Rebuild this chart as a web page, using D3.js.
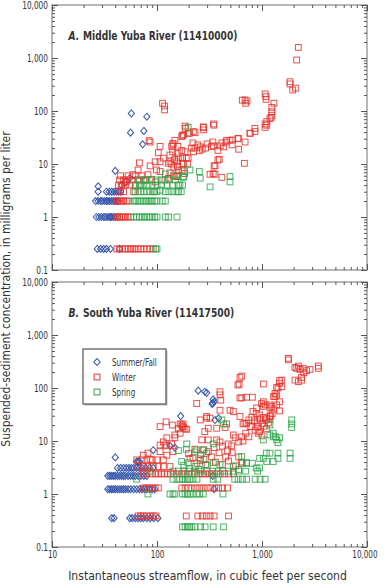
<!DOCTYPE html>
<html>
<head>
<meta charset="utf-8">
<script src="https://cdn.jsdelivr.net/npm/d3@7"></script>
<style>
  html, body { margin: 0; padding: 0; background: #fff; }
  svg { display: block; }
  text { font-family: "Liberation Sans Narrow", "DejaVu Sans Condensed", "Arial Narrow", sans-serif; fill: #333; }
</style>
</head>
<body>
<div id="chart"></div>
<script>
// Panel A - Middle Yuba River (11410000): [streamflow cfs, concentration mg/L]
// rows of repeated concentrations: [conc, [flows...]]
const aSummerRows = [
  [0.25, [27, 29, 31, 33, 36, 44]],
  [1, [26.5, 28, 29.5, 31, 32, 33.5, 35, 36, 37, 38.5, 40, 42]],
  [2, [26, 27.5, 29, 30, 31.5, 33, 34, 35.5, 37, 38.5, 40, 41.5, 43]],
  [3, [27.5, 33, 35, 37, 39, 41, 43, 45]]
];
const aSummerPts = [
  [27.5, 3.8], [40, 7.4], [57, 90], [56, 39], [80, 78], [75, 42], [73, 23.5],
  [50, 4.5], [55, 5.4], [46, 4]
];
const aWinterRows = [
  [0.25, [41.5, 44, 47, 50, 53, 56, 59, 62, 66, 70, 75, 80, 86, 92]],
  [1, [42, 44, 46, 48, 50, 53, 56]],
  [2, [42, 44, 46, 48, 51, 54]],
  [3, [43, 45, 48, 60, 95]],
  [4, [43, 46, 50, 55, 62, 70]],
  [5, [44, 48, 52, 58, 66, 75]],
  [6, [45, 53, 62, 72]]
];
const aWinterPts = [
  [84, 27.6], [107, 21.5], [103, 16.3], [142, 24.5], [141, 17], [178, 35], [133, 11],
  [154, 11], [159, 7.7], [115, 12.9], [107, 11], [96, 11], [86, 9.2], [99, 7.7],
  [68, 10.5], [66, 7.7], [82, 6.3], [77, 5], [59, 6.3], [51, 4.6], [96, 4.6],
  [119, 5], [107, 7.2], [89, 5.1], [128, 5.4], [154, 5.8],
  [113, 140], [118, 124], [118, 105],
  [138, 21.5], [213, 20], [392, 12.3], [350, 9.2], [320, 6.4], [357, 6.4], [415, 5.6],
  [198, 12.9], [178, 10.3], [133, 14.8], [128, 10.3],
  [185, 52], [186, 47], [175, 35], [203, 38], [222, 41], [276, 49], [278, 44], [349, 54],
  [345, 57], [222, 17], [230, 20], [253, 17.8], [290, 20], [330, 21.4], [340, 26],
  [400, 22], [415, 25], [460, 28], [525, 28.4], [595, 30.5], [690, 26], [680, 10.3],
  [380, 11.9], [357, 9.3], [343, 6.6],
  [689, 162], [650, 160], [700, 140], [720, 155], [857, 47], [857, 41], [769, 38],
  [1092, 186], [1070, 210], [1092, 166], [1300, 140], [1240, 117], [1240, 97], [1220, 76],
  [1240, 83], [1190, 72], [1070, 57], [1070, 49], [1110, 63], [1110, 54],
  [1849, 357], [1850, 324], [1960, 249], [2080, 270], [2137, 916], [2218, 1585],
  [86, 26], [142, 23], [172, 33], [198, 38], [230, 39], [258, 21], [345, 22],
  [455, 26], [496, 28], [590, 30], [770, 38], [148, 28], [158, 21.5], [156, 15.7],
  [160, 13], [147, 12], [138, 10], [145, 8.5], [157, 9], [133, 6.8], [143, 6],
  [158, 5.8], [172, 18], [175, 13], [177, 10], [185, 17], [190, 13], [195, 10],
  [173, 7.7], [183, 6.6], [220, 25], [245, 23], [270, 19], [300, 24], [380, 18],
  [430, 21], [520, 23], [600, 19], [276, 50]
];
const aSpringRows = [
  [0.25, [97, 100]],
  [1, [60, 64, 68, 72, 76, 80, 85, 90, 95, 100, 120, 129, 155]],
  [2, [60, 63, 66, 70, 74, 78, 82, 86, 90, 95, 100, 112, 120]],
  [3, [62, 66, 70, 75, 80, 86, 92, 100, 120, 130, 142, 155, 160, 170]],
  [4, [63, 68, 75, 82, 90, 100, 110, 125, 140, 160, 175]],
  [5, [68, 78, 88, 100, 110, 130, 150]]
];
const aSpringPts = [
  [198, 49], [178, 5.8], [253, 7.2], [258, 5.4], [496, 5.8], [496, 4.6], [320, 3.7],
  [182, 7.4], [206, 7.7], [178, 5.6], [80, 5], [107, 3.2], [165, 4], [148, 6], [120, 6.5]
];

// Panel B - South Yuba River (11417500)
const bSummerRows = [
  [0.35, [37, 39, 55, 58, 62, 66, 70, 74, 80, 86, 93, 102]],
  [1.23, [34, 35.5, 37, 38.5, 40, 42, 44, 46, 48, 50, 53, 56, 60, 64, 68, 72, 76, 80, 85, 90, 95, 350]],
  [2.2, [34, 35.5, 37, 38.5, 40, 42, 44, 46, 48, 50, 53, 56, 59, 62, 66, 70, 75, 80, 340]],
  [3.1, [42, 45, 48, 51, 54, 57, 60, 64, 68, 72, 78, 85, 92]],
  [4.1, [64, 68]]
];
const bSummerPts = [
  [40, 4.9], [92, 6.7], [133, 8.1], [148, 7.5], [168, 29.5], [247, 89], [297, 81],
  [285, 85], [343, 61], [335, 50], [350, 55], [357, 24.9], [386, 27], [340, 52], [66, 4.1]
];
const bWinterRows = [
  [0.385, [66, 70, 74, 80, 86, 92, 98, 190, 245, 270, 295, 320, 350, 480]],
  [1.3, [74, 79, 84, 90, 96, 103, 172, 185, 200, 215, 235, 255, 275, 300, 325, 355, 385, 420, 470]],
  [2.4, [74, 80, 88, 96, 103, 110, 118, 126, 135, 145, 155, 172, 185, 200, 215, 230, 250, 270, 290, 315, 340, 370, 400, 440, 480, 533]],
  [3.3, [66, 74, 82, 92, 103, 115, 133]],
  [4.4, [64, 72, 80, 90, 100, 115]]
];
const bWinterPts = [
  [74, 5.4], [82, 5.9], [107, 18.7], [122, 23], [140, 20], [160, 17], [185, 17], [148, 13],
  [115, 9.6], [107, 8.4], [123, 8.1], [142, 6.3], [239, 51], [166, 21], [178, 18.3],
  [192, 16.6], [166, 14], [297, 27], [308, 17.4], [148, 11.5], [124, 11.5], [119, 8.4],
  [138, 8.8], [107, 6.3], [124, 5.4], [86, 4.5], [206, 4.7], [258, 4.3],
  [1780, 363], [1790, 340], [2060, 245], [2220, 260], [2460, 235], [3440, 260], [3440, 235],
  [2866, 224], [2500, 194], [2380, 158], [2220, 132], [2060, 141], [2380, 141],
  [2140, 235], [2300, 224], [2660, 212],
  [1543, 141], [1470, 123], [1380, 103], [1330, 79], [1330, 69], [1380, 74], [1470, 55],
  [1470, 37], [1190, 48], [1190, 42], [1030, 45], [1030, 55], [1030, 119], [890, 42],
  [714, 67], [617, 158], [590, 114], [617, 65], [533, 36], [617, 29], [687, 21.6],
  [398, 85], [398, 74], [405, 59], [398, 38], [297, 29], [258, 25], [172, 20],
  [175, 18.7], [641, 168], [606, 118], [810, 67], [1470, 138], [1543, 106], [1420, 100],
  [1290, 69], [990, 51], [1070, 48], [1240, 45], [1380, 48], [641, 65], [1030, 28],
  [1100, 25], [1150, 22], [1190, 26], [714, 21.6], [800, 18.7], [860, 16], [920, 14],
  [640, 12], [660, 10], [533, 13], [445, 18], [460, 21], [370, 17.4], [285, 15], [267, 10.5],
  [308, 10.5], [370, 10.5], [398, 9.6], [476, 8.8], [513, 8.1], [555, 11.5], [600, 9.6],
  [275, 6.8], [308, 6.3], [320, 27], [496, 38], [820, 36], [880, 33], [950, 31],
  [660, 21], [1110, 27], [1190, 29], [770, 18.7], [910, 18.7], [177, 21],
  [260, 5.5], [280, 4.5], [300, 3.5], [330, 5], [360, 4], [390, 6], [420, 3.6], [450, 5],
  [480, 4.2], [520, 6], [560, 3.4], [600, 5], [640, 4], [350, 7.5], [420, 8], [470, 6.5],
  [230, 7], [240, 3.8], [200, 5.8], [220, 4.8], [750, 25], [800, 28], [850, 24], [900, 22],
  [950, 26], [1000, 21], [1050, 19], [1100, 17], [950, 15], [1000, 12.5], [1200, 30],
  [1250, 33], [1300, 40], [700, 14], [750, 12]
];
const bSpringRows = [
  [0.24, [175, 185, 195, 205, 215, 230, 260, 287, 343, 430]],
  [1, [82, 133, 142, 148, 175, 185, 195, 206, 220, 239, 255, 276, 425]],
  [1.9, [64, 142, 155, 165, 175, 185, 195, 205, 220, 240, 343, 380, 550, 593, 650, 714, 860, 960, 1070]],
  [2.7, [86, 142, 160, 180, 200, 230, 260, 300, 340, 380, 420, 480, 533, 600, 700, 910]]
];
const bSpringPts = [
  [1920, 25], [1920, 21], [1920, 18], [415, 25], [430, 21], [1190, 20], [1280, 14],
  [1350, 12], [1420, 9.3], [1100, 5.9], [1190, 5.9], [1420, 5.9], [1420, 4.7], [950, 4.7],
  [1030, 4.7], [810, 3.8], [880, 3.1], [950, 3.1], [650, 3.8], [710, 3.8], [600, 2.9],
  [1850, 5.9], [1850, 4.7], [1110, 4.1], [1280, 4.1], [714, 3.9], [533, 3.3], [641, 5.1],
  [1280, 12], [1380, 10.5], [1190, 13], [1470, 11.5], [1030, 10.5], [192, 8.8], [239, 6.8],
  [343, 8.8], [297, 5.9], [172, 4.1], [198, 3.9], [230, 3.3], [258, 4.6], [343, 3.9],
  [398, 3.6], [160, 6.6], [190, 7], [230, 6.2], [280, 6.8], [180, 3.5], [205, 3],
  [250, 2.9], [290, 3.6]
];

const majorTicks = [0.1, 1, 10, 100, 1000, 10000];
const xMajorTicks = [10, 100, 1000, 10000];
const seasons = ["Summer/Fall", "Winter", "Spring"];
const colors = { "Summer/Fall": "#2f50aa", "Winter": "#e8332b", "Spring": "#2ea64a" };

const width = 384, height = 585;
const left = 52, right = 367;

const svg = d3.select("#chart").append("svg")
  .attr("width", width).attr("height", height);
svg.append("rect").attr("width", width).attr("height", height).attr("fill", "#fff");

const x = d3.scaleLog().domain([10, 10000]).range([left, right]);

function expand(rows, pts) {
  const out = [];
  rows.forEach(([c, qs]) => qs.forEach(q => out.push([q, c])));
  return out.concat(pts);
}

function minorTicks(lo, hi) {
  const out = [];
  for (let d = lo; d < hi; d *= 10) {
    for (let m = 2; m <= 9; m++) out.push(d * m);
  }
  return out;
}

// squeeze text horizontally to mimic the condensed typeface
function condense(sel, f) {
  sel.each(function () {
    const w = this.getComputedTextLength();
    d3.select(this).attr("textLength", w * f).attr("lengthAdjust", "spacingAndGlyphs");
  });
}

// place a text so that its width matches a target
function fitText(parent, tx, ty, rot, target, build) {
  const g = parent.append("g");
  const t = build(g.append("text"));
  const w = t.node().getBBox().width;
  const f = target / w;
  g.attr("transform", `translate(${tx},${ty}) rotate(${rot}) scale(${f},1)`);
  return t;
}

const yFmt = d => d < 1 ? "0.1" : d3.format(",")(d);
const diamond = "M0,-3.5L3.1,0L0,3.5L-3.1,0Z";

function panel(top, bottom, title, letter, titleW, data, showX) {
  const y = d3.scaleLog().domain([0.1, 10000]).range([bottom, top]);
  const g = svg.append("g");

  // points
  seasons.forEach(s => {
    const pts = data[s];
    if (s === "Summer/Fall") {
      g.append("g").selectAll("path").data(pts).enter().append("path")
        .attr("d", diamond)
        .attr("transform", d => `translate(${x(d[0])},${y(d[1])})`)
        .attr("fill", "none").attr("stroke", colors[s])
        .attr("stroke-width", 1.1).attr("stroke-opacity", 0.9);
    } else {
      g.append("g").selectAll("rect").data(pts).enter().append("rect")
        .attr("x", d => x(d[0]) - 2.9).attr("y", d => y(d[1]) - 2.9)
        .attr("width", 5.8).attr("height", 5.8)
        .attr("fill", "none").attr("stroke", colors[s])
        .attr("stroke-width", 1).attr("stroke-opacity", 0.85);
    }
  });

  // frame
  g.append("rect").attr("x", left).attr("y", top)
    .attr("width", right - left).attr("height", bottom - top)
    .attr("fill", "none").attr("stroke", "#a0a0a0").attr("stroke-width", 1.5);

  const styleAxis = sel => {
    sel.select(".domain").remove();
    sel.selectAll("line").attr("stroke", "#555");
  };

  // y axes
  const yl = g.append("g").attr("transform", `translate(${left},0)`)
    .call(d3.axisLeft(y).tickValues(majorTicks).tickFormat(yFmt).tickSize(-6).tickPadding(4))
    .call(styleAxis);
  yl.selectAll("text").style("font-size", "10px").attr("fill", "#444")
    .style("font-family", "'Liberation Sans Narrow', 'DejaVu Sans Condensed', sans-serif")
    .call(condense, 0.82);
  g.append("g").attr("transform", `translate(${left},0)`)
    .call(d3.axisLeft(y).tickValues(minorTicks(0.1, 10000)).tickFormat("").tickSize(-3))
    .call(styleAxis);
  g.append("g").attr("transform", `translate(${right},0)`)
    .call(d3.axisRight(y).tickValues(majorTicks).tickFormat("").tickSize(-6))
    .call(styleAxis);
  g.append("g").attr("transform", `translate(${right},0)`)
    .call(d3.axisRight(y).tickValues(minorTicks(0.1, 10000)).tickFormat("").tickSize(-3))
    .call(styleAxis);

  // x axes
  const xb = g.append("g").attr("transform", `translate(0,${bottom})`)
    .call(d3.axisBottom(x).tickValues(xMajorTicks)
      .tickFormat(showX ? d3.format(",") : "").tickSize(-6).tickPadding(4))
    .call(styleAxis);
  if (showX) {
    xb.selectAll("text").style("font-size", "10px").attr("fill", "#444")
      .style("font-family", "'Liberation Sans Narrow', 'DejaVu Sans Condensed', sans-serif")
      .call(condense, 0.8)
      .filter(d => d === 10000).attr("text-anchor", "end").attr("dx", 10);
  }
  g.append("g").attr("transform", `translate(0,${bottom})`)
    .call(d3.axisBottom(x).tickValues(minorTicks(10, 10000)).tickFormat("").tickSize(-3))
    .call(styleAxis);
  g.append("g").attr("transform", `translate(0,${top})`)
    .call(d3.axisTop(x).tickValues(xMajorTicks).tickFormat("").tickSize(-6))
    .call(styleAxis);
  g.append("g").attr("transform", `translate(0,${top})`)
    .call(d3.axisTop(x).tickValues(minorTicks(10, 10000)).tickFormat("").tickSize(-3))
    .call(styleAxis);

  // panel title
  fitText(g, left + 16.5, top + 35, 0, titleW, t => {
    t.style("font-size", "13px").style("font-weight", "bold").attr("fill", "#111");
    t.append("tspan").style("font-style", "italic").text(letter + ".");
    t.append("tspan").attr("dx", 5).text(title);
    return t;
  });
  return y;
}

panel(5, 270, "Middle Yuba River (11410000)", "A", 170, {
  "Summer/Fall": expand(aSummerRows, aSummerPts),
  "Winter": expand(aWinterRows, aWinterPts),
  "Spring": expand(aSpringRows, aSpringPts)
}, false);

panel(282, 547, "South Yuba River (11417500)", "B", 166, {
  "Summer/Fall": expand(bSummerRows, bSummerPts),
  "Winter": expand(bWinterRows, bWinterPts),
  "Spring": expand(bSpringRows, bSpringPts)
}, true);

// legend
const lg = svg.append("g").attr("transform", "translate(83,349)");
lg.append("rect").attr("x", 1.5).attr("y", 1.5).attr("width", 83).attr("height", 55)
  .attr("fill", "#bbb");
lg.append("rect").attr("width", 83).attr("height", 55)
  .attr("fill", "#fff").attr("stroke", "#555").attr("stroke-width", 1.2);
seasons.forEach((s, i) => {
  const cy = 13 + i * 15;
  if (i === 0) {
    lg.append("path").attr("d", diamond).attr("transform", `translate(14,${cy})`)
      .attr("fill", "none").attr("stroke", colors[s]).attr("stroke-width", 1.1);
  } else {
    lg.append("rect").attr("x", 11.1).attr("y", cy - 2.9).attr("width", 5.8).attr("height", 5.8)
      .attr("fill", "none").attr("stroke", colors[s]).attr("stroke-width", 1);
  }
  lg.append("text").attr("x", 29).attr("y", cy + 3.5).style("font-size", "10px")
    .attr("fill", "#333").text(s).call(condense, 0.8);
});

// axis titles
fitText(svg, 207.5, 580, 0, 279, t => t.attr("text-anchor", "middle")
  .style("font-size", "12.5px").attr("fill", "#333")
  .text("Instantaneous streamflow, in cubic feet per second"));
fitText(svg, 10, 289, -90, 316, t => t.attr("text-anchor", "middle")
  .style("font-size", "12.5px").attr("fill", "#333")
  .text("Suspended-sediment concentration, in milligrams per liter"));
</script>
</body>
</html>
